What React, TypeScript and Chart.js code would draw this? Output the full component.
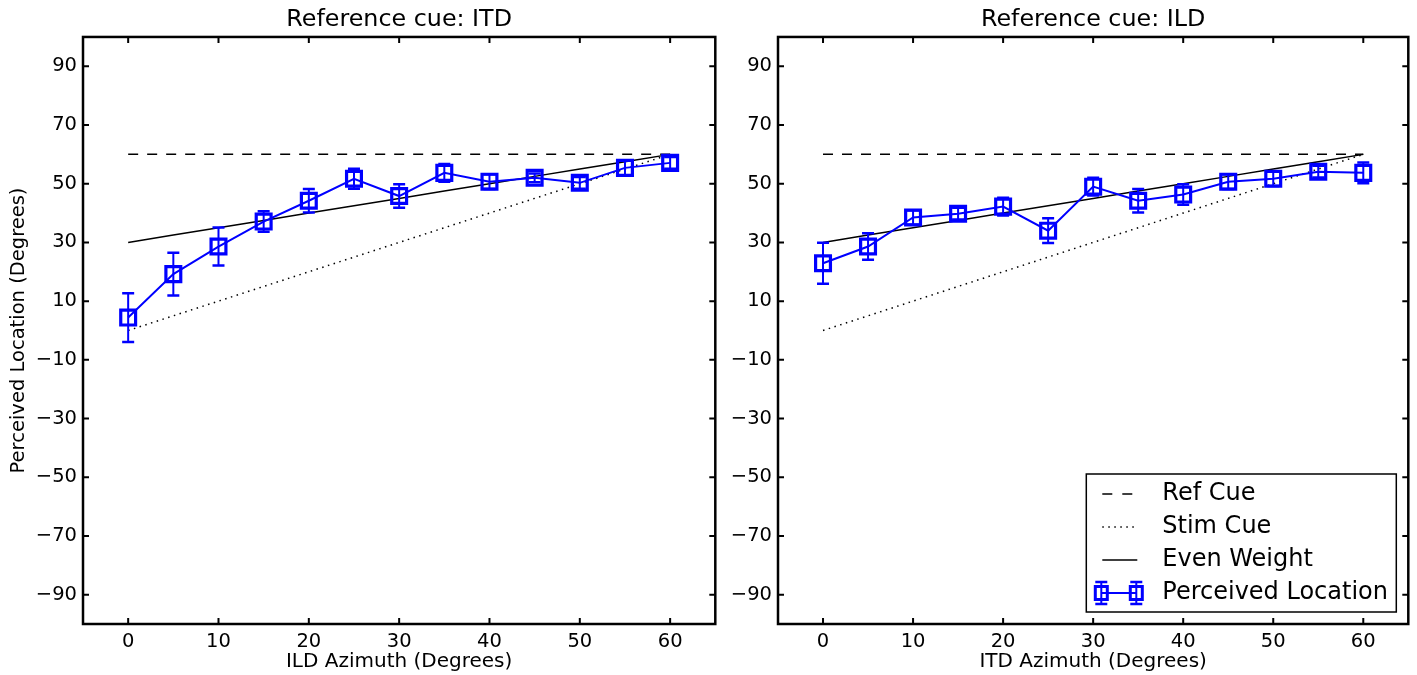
import React, { useEffect, useRef } from "react";
import { Chart, registerables } from "chart.js";

Chart.register(...registerables);

// ---------- data ----------
const xValues = [0, 5, 10, 15, 20, 25, 30, 35, 40, 45, 50, 55, 60];
const refCue = [60, 60, 60, 60, 60, 60, 60, 60, 60, 60, 60, 60, 60];
const stimCue = [0, 5, 10, 15, 20, 25, 30, 35, 40, 45, 50, 55, 60];
const evenWeight = [30, 32.5, 35, 37.5, 40, 42.5, 45, 47.5, 50, 52.5, 55, 57.5, 60];

// Panel 1: reference cue ITD
const perceivedItdRef = [4.4, 19.2, 28.6, 37.1, 44.2, 51.7, 45.8, 53.7, 50.7, 52.0, 50.3, 55.4, 57.1];
const errorItdRef = [8.3, 7.3, 6.5, 3.5, 4.0, 3.4, 4.0, 3.0, 2.5, 1.5, 2.0, 2.5, 2.0];

// Panel 2: reference cue ILD
const perceivedIldRef = [22.9, 28.6, 38.5, 39.8, 42.2, 34.0, 49.0, 44.2, 46.3, 50.7, 51.7, 54.1, 53.7];
const errorIldRef = [7.0, 4.5, 2.5, 2.0, 3.0, 4.2, 3.0, 4.0, 3.5, 2.5, 2.5, 2.0, 3.5];

const xTicks = [0, 10, 20, 30, 40, 50, 60];
const yTicks = [90, 70, 50, 30, 10, -10, -30, -50, -70, -90];

const panelTitles = ["Reference cue: ITD", "Reference cue: ILD"];
const xAxisTitles = ["ILD Azimuth (Degrees)", "ITD Azimuth (Degrees)"];
const yAxisTitle = "Perceived Location (Degrees)";
const legendLabels = ["Ref Cue", "Stim Cue", "Even Weight", "Perceived Location"];

// ---------- styles ----------
const FONT = "'DejaVu Sans', sans-serif";
const BLUE = "#0000ff";
const DASH = [10, 9];
const DOT = [1.5, 4.5];

const fmt = (v: number) => (v < 0 ? "\u2212" + Math.abs(v) : String(v));
const pts = (ys: number[]) => xValues.map((x, i) => ({ x, y: ys[i] }));

function drawErrorBar(ctx: any, x: number, t: number, b: number) {
  ctx.lineWidth = 2;
  ctx.beginPath();
  ctx.moveTo(x, t);
  ctx.lineTo(x, b);
  ctx.stroke();
  ctx.lineWidth = 2.5;
  ctx.beginPath();
  ctx.moveTo(x - 6, t);
  ctx.lineTo(x + 6, t);
  ctx.moveTo(x - 6, b);
  ctx.lineTo(x + 6, b);
  ctx.stroke();
}

const errorBarPlugin = {
  id: "errorBars",
  afterDatasetsDraw(chart: any, _args: any, opts: any) {
    const errs: number[] = opts.errors;
    if (!errs) return;
    const meta = chart.getDatasetMeta(opts.datasetIndex);
    const ds = chart.data.datasets[opts.datasetIndex];
    const ys = chart.scales.y;
    const ctx = chart.ctx;
    ctx.save();
    ctx.strokeStyle = BLUE;
    meta.data.forEach((el: any, i: number) => {
      const v = ds.data[i].y;
      drawErrorBar(ctx, el.x, ys.getPixelForValue(v + errs[i]), ys.getPixelForValue(v - errs[i]));
    });
    ctx.restore();
  },
};

const framePlugin = {
  id: "frame",
  afterDraw(chart: any) {
    const { ctx, chartArea: a } = chart;
    const xs = chart.scales.x;
    const ys = chart.scales.y;
    ctx.save();
    ctx.strokeStyle = "#000";
    ctx.lineWidth = 2;
    const L = 6;
    ctx.beginPath();
    xTicks.forEach((v) => {
      const px = xs.getPixelForValue(v);
      ctx.moveTo(px, a.bottom);
      ctx.lineTo(px, a.bottom - L);
      ctx.moveTo(px, a.top);
      ctx.lineTo(px, a.top + L);
    });
    yTicks.forEach((v) => {
      const py = ys.getPixelForValue(v);
      ctx.moveTo(a.left, py);
      ctx.lineTo(a.left + L, py);
      ctx.moveTo(a.right, py);
      ctx.lineTo(a.right - L, py);
    });
    ctx.stroke();
    ctx.lineWidth = 2.5;
    ctx.strokeRect(a.left, a.top, a.right - a.left, a.bottom - a.top);
    ctx.restore();
  },
};

const legendPlugin = {
  id: "boxLegend",
  afterDraw(chart: any) {
    const { ctx, chartArea: a } = chart;
    const w = 310;
    const h = 138;
    const x0 = a.right - 12 - w;
    const y0 = a.bottom - 12 - h;
    ctx.save();
    ctx.fillStyle = "#fff";
    ctx.fillRect(x0, y0, w, h);
    ctx.strokeStyle = "#000";
    ctx.lineWidth = 1.5;
    ctx.strokeRect(x0, y0, w, h);
    const rows = [20, 53, 86, 119];
    ctx.font = `24px ${FONT}`;
    ctx.textBaseline = "middle";
    ctx.textAlign = "left";
    legendLabels.forEach((label, i) => {
      const y = y0 + rows[i];
      ctx.save();
      if (i < 3) {
        ctx.strokeStyle = "#000";
        ctx.lineWidth = 1.5;
        ctx.setLineDash(i === 0 ? [10, 10] : i === 1 ? DOT : []);
        ctx.beginPath();
        ctx.moveTo(x0 + 16, y);
        ctx.lineTo(x0 + (i === 0 ? 46 : 51), y);
        ctx.stroke();
      } else {
        ctx.strokeStyle = BLUE;
        const m = [x0 + 15, x0 + 50];
        ctx.lineWidth = 2;
        ctx.beginPath();
        ctx.moveTo(m[0], y);
        ctx.lineTo(m[1], y);
        ctx.stroke();
        m.forEach((mx) => {
          drawErrorBar(ctx, mx, y - 11, y + 11);
          ctx.lineWidth = 3;
          ctx.strokeRect(mx - 6, y - 6.5, 12, 13);
        });
      }
      ctx.restore();
      ctx.fillStyle = "#000";
      ctx.fillText(label, x0 + 76, y);
    });
    ctx.restore();
  },
};

function makeConfig(panel: number): any {
  const perceived = panel === 0 ? perceivedItdRef : perceivedIldRef;
  const errors = panel === 0 ? errorItdRef : errorIldRef;
  const tickFont = { family: FONT, size: 19.5 };
  return {
    type: "line",
    data: {
      datasets: [
        {
          label: legendLabels[3],
          data: pts(perceived),
          borderColor: BLUE,
          borderWidth: 2,
          pointStyle: "rect",
          pointRadius: 10.5,
          pointBorderWidth: 3.2,
          pointBorderColor: BLUE,
          pointBackgroundColor: "rgba(0,0,0,0)",
          tension: 0,
          order: 0,
        },
        {
          label: legendLabels[0],
          data: pts(refCue),
          borderColor: "#000",
          borderWidth: 1.5,
          borderDash: DASH,
          pointRadius: 0,
          order: 1,
        },
        {
          label: legendLabels[1],
          data: pts(stimCue),
          borderColor: "#000",
          borderWidth: 1.5,
          borderDash: DOT,
          pointRadius: 0,
          order: 1,
        },
        {
          label: legendLabels[2],
          data: pts(evenWeight),
          borderColor: "#000",
          borderWidth: 1.5,
          pointRadius: 0,
          order: 1,
        },
      ],
    },
    options: {
      animation: false,
      responsive: false,
      devicePixelRatio: 1,
      layout: { padding: { left: 0, right: panel === 0 ? 5 : 8, top: 0, bottom: 0 } },
      plugins: {
        legend: { display: false },
        tooltip: { enabled: false },
        title: {
          display: true,
          text: panelTitles[panel],
          fullSize: false,
          color: "#000",
          font: { family: FONT, size: 23.8, weight: "normal", lineHeight: 1.2 },
          padding: { top: 6, bottom: 2.4 },
        },
        errorBars: { datasetIndex: 0, errors },
      },
      scales: {
        x: {
          type: "linear",
          position: "bottom",
          min: -5,
          max: 65,
          afterBuildTicks: (s: any) => {
            s.ticks = xTicks.map((v) => ({ value: v }));
          },
          afterFit: (s: any) => {
            s.height = 51;
            s.paddingLeft = 0;
            s.paddingRight = 0;
          },
          grid: { display: false, drawTicks: false },
          border: { display: false },
          ticks: {
            color: "#000",
            font: tickFont,
            padding: 6,
            autoSkip: false,
            maxRotation: 0,
            callback: (v: any) => fmt(Number(v)),
          },
          title: {
            display: true,
            text: xAxisTitles[panel],
            color: "#000",
            font: { family: FONT, size: 20 },
            padding: { top: 0, bottom: 1 },
          },
        },
        y: {
          type: "linear",
          position: "left",
          min: -100,
          max: 100,
          afterBuildTicks: (s: any) => {
            s.ticks = yTicks.map((v) => ({ value: v }));
          },
          afterFit: (s: any) => {
            s.width = panel === 0 ? 83 : 58;
            s.paddingTop = 0;
            s.paddingBottom = 0;
          },
          grid: { display: false, drawTicks: false },
          border: { display: false },
          ticks: {
            color: "#000",
            font: tickFont,
            padding: 6,
            autoSkip: false,
            callback: (v: any) => fmt(Number(v)),
          },
          title: {
            display: panel === 0,
            text: yAxisTitle,
            color: "#000",
            font: { family: FONT, size: 19.5 },
            padding: { top: 7.5, bottom: 0 },
          },
        },
      },
    },
    plugins: panel === 0 ? [errorBarPlugin, framePlugin] : [errorBarPlugin, framePlugin, legendPlugin],
  };
}

function Panel({ panel, left, width }: { panel: number; left: number; width: number }) {
  const ref = useRef<HTMLCanvasElement | null>(null);
  useEffect(() => {
    if (!ref.current) return;
    const chart = new Chart(ref.current, makeConfig(panel));
    return () => chart.destroy();
  }, [panel]);
  return (
    <canvas
      ref={ref}
      width={width}
      height={675}
      style={{ position: "absolute", left, top: 0, width, height: 675 }}
    />
  );
}

export default function App() {
  return (
    <div
      style={{
        position: "absolute",
        left: 0,
        top: 0,
        width: 1417,
        height: 675,
        background: "#fff",
        overflow: "hidden",
      }}
    >
      <Panel panel={0} left={0} width={729} />
      <Panel panel={1} left={720} width={702} />
    </div>
  );
}
